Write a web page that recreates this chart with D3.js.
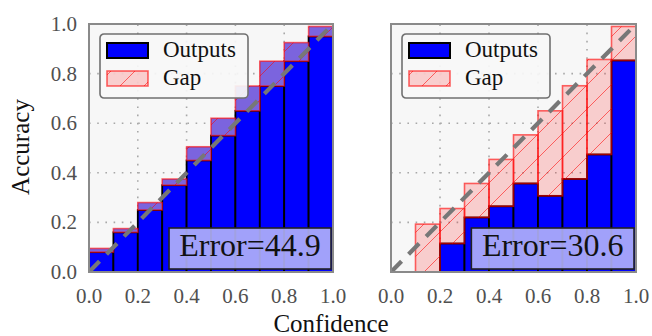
<!DOCTYPE html>
<html><head><meta charset="utf-8">
<script src="https://cdn.jsdelivr.net/npm/d3@7"></script>
<style>
html,body{margin:0;padding:0;background:#fff;}
svg{display:block;}
</style></head>
<body>
<svg id="chart" width="652" height="336"></svg>
<script>
// ---- data ----
const binEdges = [0.0,0.1,0.2,0.3,0.4,0.5,0.6,0.7,0.8,0.9];
const binWidth = 0.1;
const leftAccuracy = [0.08,0.16,0.25,0.35,0.45,0.55,0.65,0.75,0.85,0.95];
const leftGapTop   = [0.095,0.175,0.28,0.375,0.505,0.62,0.75,0.85,0.925,0.99];
const rightAccuracy = [0,0,0.115,0.22,0.265,0.357,0.307,0.375,0.474,0.853];
const rightGapTop   = [0,0.193,0.256,0.357,0.454,0.553,0.65,0.751,0.857,0.99];
const tickValues = [0.0,0.2,0.4,0.6,0.8,1.0];
const tickLabels = ["0.0","0.2","0.4","0.6","0.8","1.0"];
const gridValues = [0.2,0.4,0.6,0.8];
const errorLabels = ["Error=44.9","Error=30.6"];
const legendLabels = ["Outputs","Gap"];

const svg = d3.select("#chart");
const FONT = "'Liberation Serif','Times New Roman',serif";

const defs = svg.append("defs");
const P = 24;
const pat = defs.append("pattern").attr("id","hatch")
  .attr("patternUnits","userSpaceOnUse").attr("width",P).attr("height",P);
pat.append("path").attr("d",`M-6,6 L6,-6 M0,${P} L${P},0 M${P-6},${P+6} L${P+6},${P-6}`)
  .attr("stroke","rgba(255,0,0,0.55)").attr("stroke-width",1).attr("fill","none");

const panels = [
  {x0:89, x1:333, acc:leftAccuracy, gap:leftGapTop, gapFill:"#7b64de", err:errorLabels[0], yLabels:true},
  {x0:391, x1:636, acc:rightAccuracy, gap:rightGapTop, gapFill:"rgba(255,0,0,0.17)", err:errorLabels[1], yLabels:false}
];
const yTop = 24, yBot = 272;

panels.forEach((p,pi)=>{
  const x = d3.scaleLinear().domain([0,1]).range([p.x0,p.x1]);
  const y = d3.scaleLinear().domain([0,1]).range([yBot,yTop]);
  const g = svg.append("g");
  const clipId = "clip"+pi;
  defs.append("clipPath").attr("id",clipId).append("rect")
    .attr("x",p.x0).attr("y",yTop).attr("width",p.x1-p.x0).attr("height",yBot-yTop);

  // background
  g.append("rect").attr("x",p.x0).attr("y",yTop).attr("width",p.x1-p.x0).attr("height",yBot-yTop)
    .attr("fill","#f7f7f7");
  // grid
  const grid = g.append("g").attr("stroke","#a8a8a8").attr("stroke-width",1.6)
    .attr("stroke-dasharray","1.6 6.6");
  grid.selectAll("line.v").data(gridValues).join("line").attr("class","v")
    .attr("x1",d=>x(d)).attr("x2",d=>x(d)).attr("y1",yBot).attr("y2",yTop);
  grid.selectAll("line.h").data(gridValues).join("line").attr("class","h")
    .attr("y1",d=>y(d)).attr("y2",d=>y(d)).attr("x1",p.x0).attr("x2",p.x1);

  const plot = g.append("g").attr("clip-path",`url(#${clipId})`);
  // outputs bars
  const rows = binEdges.map((b,i)=>({b, acc:p.acc[i], gap:p.gap[i]}));
  plot.selectAll("rect.out").data(rows.filter(d=>d.acc>0)).join("rect").attr("class","out")
    .attr("x",d=>x(d.b)).attr("width",d=>x(d.b+binWidth)-x(d.b))
    .attr("y",d=>y(d.acc)).attr("height",d=>y(0)-y(d.acc))
    .attr("fill","#0000ff").attr("stroke","#000").attr("stroke-width",1.8);
  // gap bars
  const gaps = rows.filter(d=>d.gap>d.acc);
  plot.selectAll("rect.gapf").data(gaps).join("rect").attr("class","gapf")
    .attr("x",d=>x(d.b)).attr("width",d=>x(d.b+binWidth)-x(d.b))
    .attr("y",d=>y(d.gap)).attr("height",d=>y(d.acc)-y(d.gap))
    .attr("fill",p.gapFill);
  plot.selectAll("rect.gaph").data(gaps).join("rect").attr("class","gaph")
    .attr("x",d=>x(d.b)).attr("width",d=>x(d.b+binWidth)-x(d.b))
    .attr("y",d=>y(d.gap)).attr("height",d=>y(d.acc)-y(d.gap))
    .attr("fill","url(#hatch)").attr("stroke","rgba(255,0,0,0.6)").attr("stroke-width",1.6);

  // diagonal
  plot.append("path").datum([0,1])
    .attr("d",d3.line().x(d=>x(d)).y(d=>y(d)))
    .attr("stroke","#777").attr("stroke-width",4.2).attr("stroke-dasharray","15 10")
    .attr("fill","none");

  // frame
  g.append("rect").attr("x",p.x0).attr("y",yTop).attr("width",p.x1-p.x0).attr("height",yBot-yTop)
    .attr("fill","none").attr("stroke","#8a8a8a").attr("stroke-width",2);

  // legend
  const lg = g.append("g").attr("transform",`translate(${p.x0+11},34)`);
  lg.append("rect").attr("width",148).attr("height",64).attr("rx",4)
    .attr("fill","rgba(247,247,247,0.92)").attr("stroke","#707070").attr("stroke-width",1.6);
  lg.append("rect").attr("x",7).attr("y",9).attr("width",41).attr("height",15)
    .attr("fill","#0000ff").attr("stroke","#000").attr("stroke-width",2);
  lg.append("rect").attr("x",7).attr("y",37).attr("width",41).attr("height",15)
    .attr("fill","rgba(255,0,0,0.17)");
  lg.append("rect").attr("x",7).attr("y",37).attr("width",41).attr("height",15)
    .attr("fill","url(#hatch)").attr("stroke","rgba(255,0,0,0.6)").attr("stroke-width",1.6);
  lg.selectAll("text").data(legendLabels).join("text")
    .attr("x",63).attr("y",(d,i)=>23+i*28)
    .attr("font-family",FONT).attr("font-size",23).attr("fill","#111").text(d=>d);

  // error box
  const bx0 = p.x0 + (p.x1-p.x0)*0.328, bx1 = p.x1 - 2, by0 = 228, by1 = 269;
  g.append("rect").attr("x",bx0).attr("y",by0).attr("width",bx1-bx0).attr("height",by1-by0)
    .attr("fill","rgba(178,178,250,0.9)").attr("stroke","#222").attr("stroke-width",1.6);
  g.append("text").attr("x",(bx0+bx1)/2).attr("y",256).attr("text-anchor","middle")
    .attr("font-family",FONT).attr("font-size",32).attr("fill","#111").text(p.err);

  // x tick labels
  g.selectAll("text.xt").data(tickValues).join("text").attr("class","xt")
    .attr("x",d=>x(d)).attr("y",303).attr("text-anchor","middle")
    .attr("font-family",FONT).attr("font-size",21).attr("fill","#505050")
    .text((d,i)=>tickLabels[i]);
  if(p.yLabels){
    g.selectAll("text.yt").data(tickValues).join("text").attr("class","yt")
      .attr("x",77).attr("y",d=>y(d)+7).attr("text-anchor","end")
      .attr("font-family",FONT).attr("font-size",21).attr("fill","#505050")
      .text((d,i)=>tickLabels[i]);
  }
});

svg.append("text").attr("transform","translate(29,147) rotate(-90)").attr("text-anchor","middle")
  .attr("font-family",FONT).attr("font-size",25).attr("fill","#111").text("Accuracy");
svg.append("text").attr("x",331).attr("y",332).attr("text-anchor","middle")
  .attr("font-family",FONT).attr("font-size",25).attr("fill","#111").text("Confidence");
</script>
</body></html>
